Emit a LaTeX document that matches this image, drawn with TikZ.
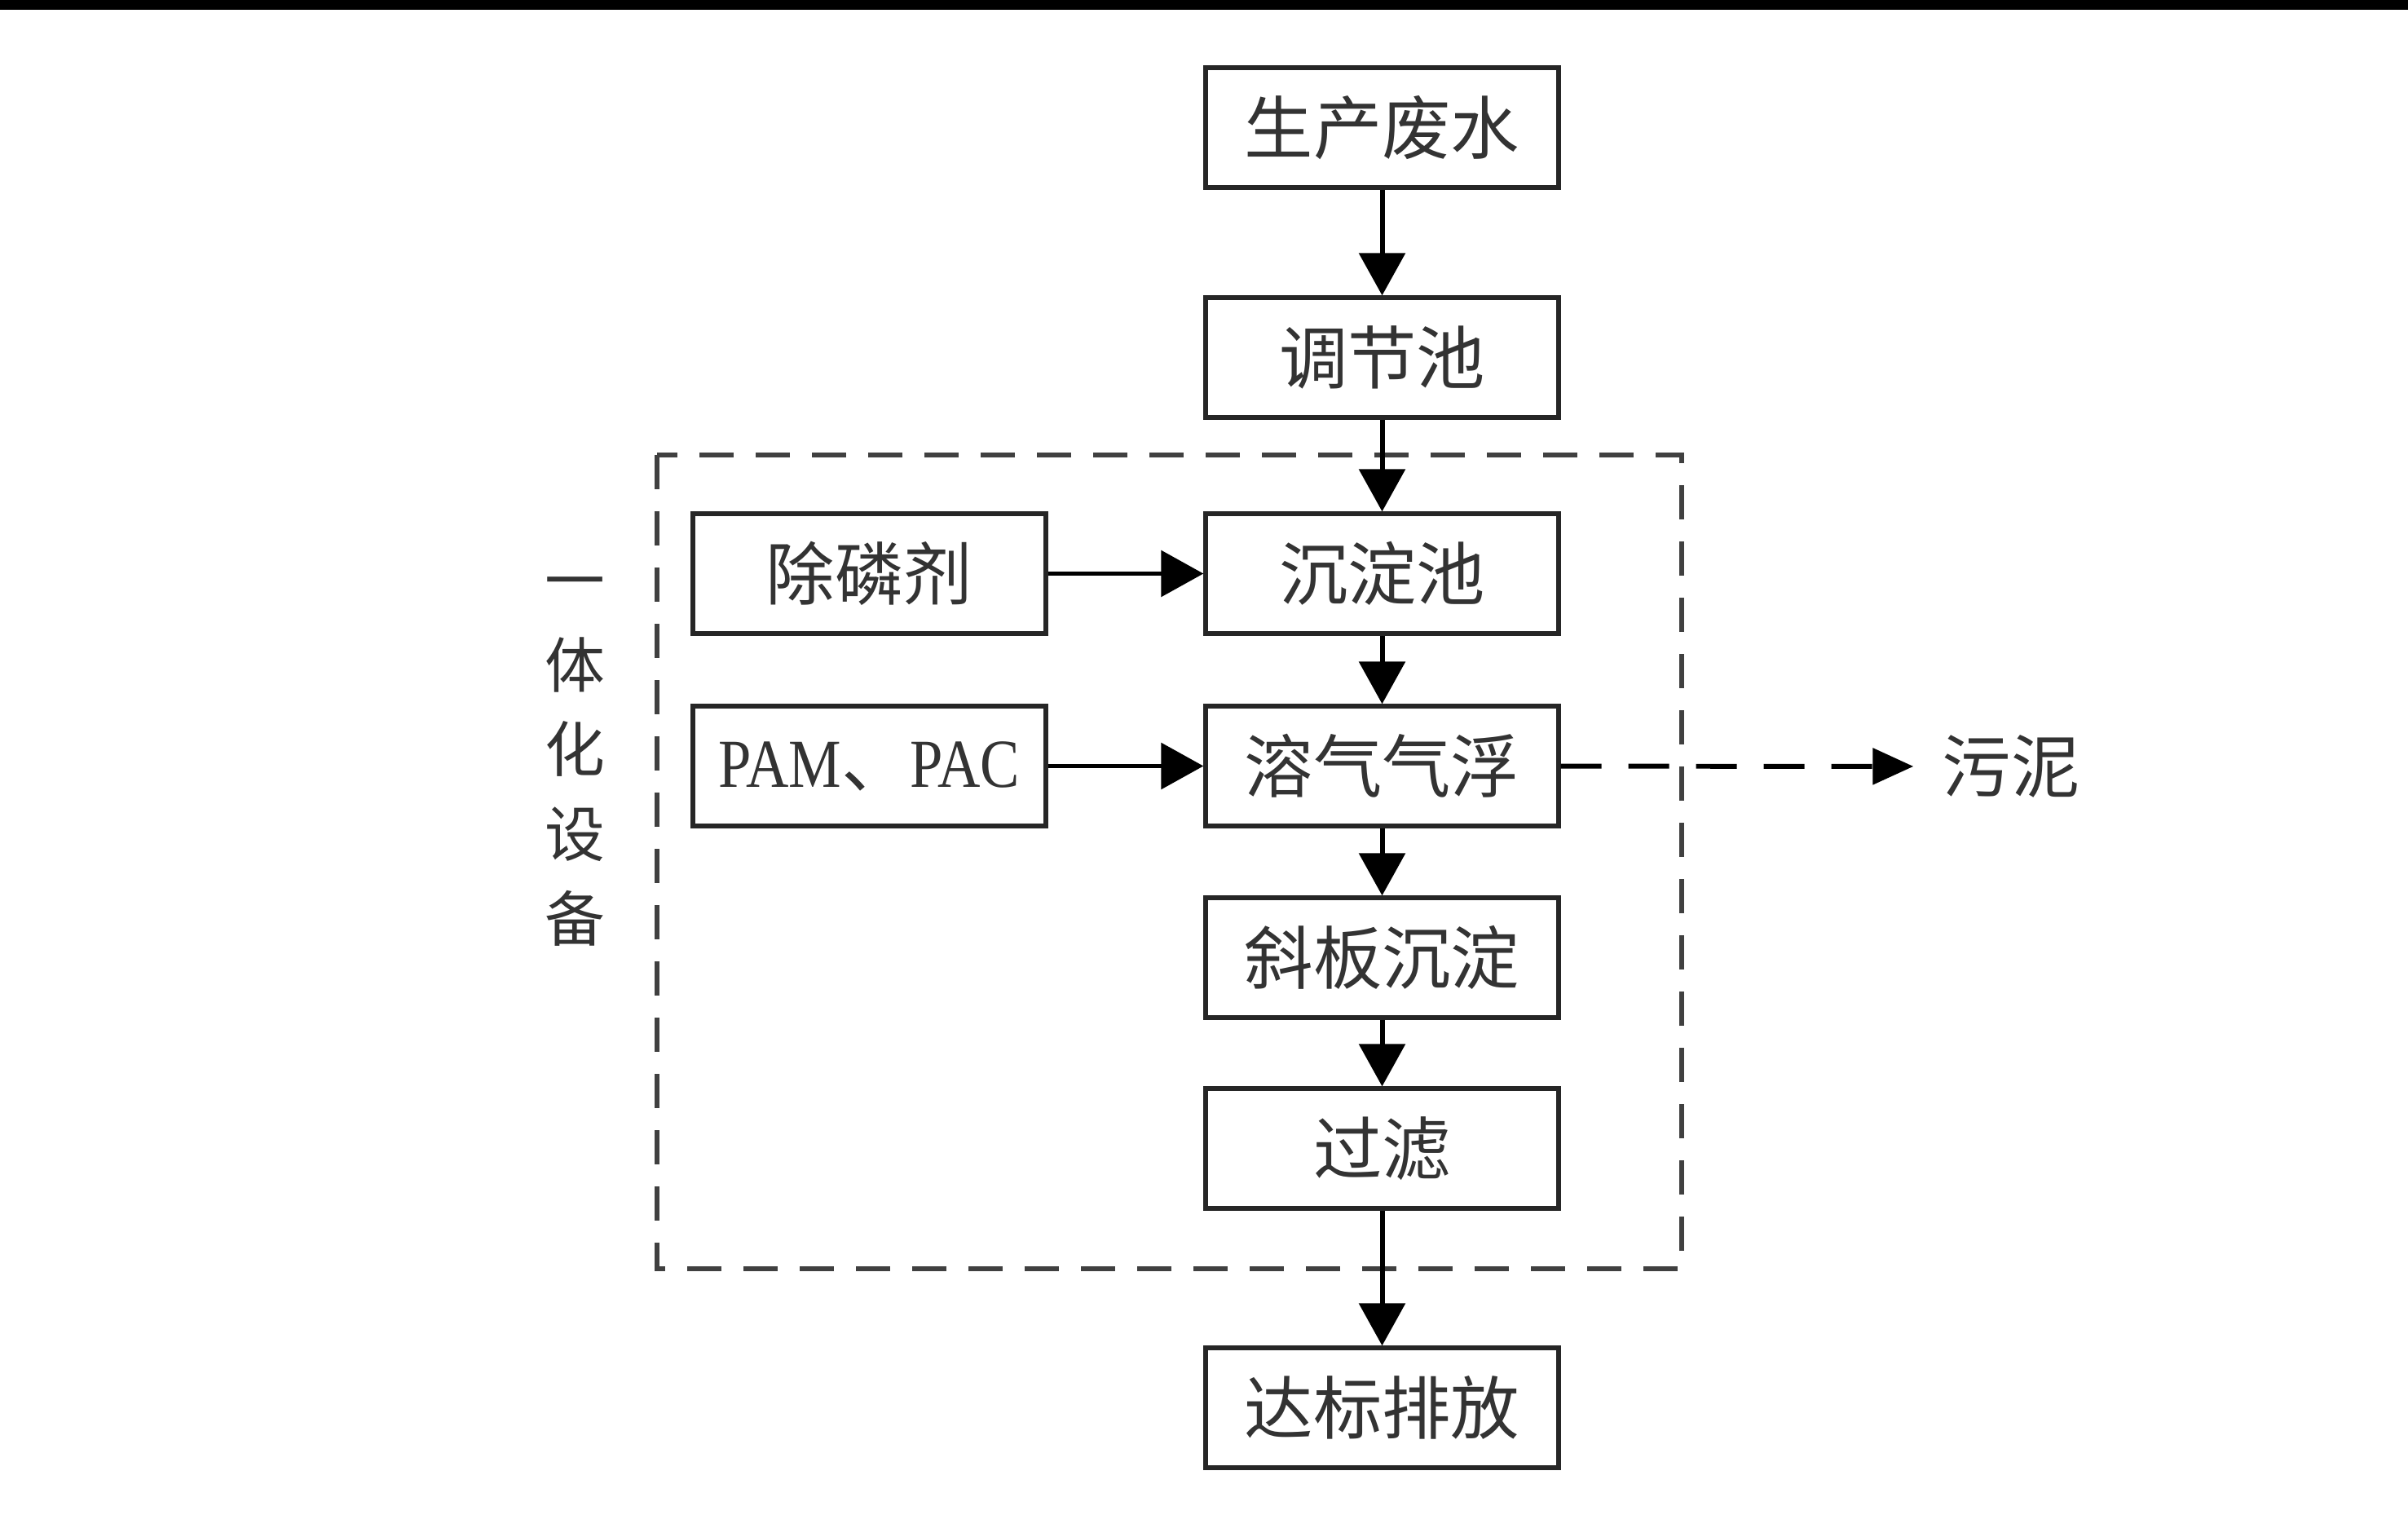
\documentclass[tikz,border=0pt]{standalone}
\usepackage{fontspec}
\setmainfont{Liberation Serif}
\newfontfamily\cjk{Noto Sans CJK SC}
\newfontfamily\latin[FakeStretch=0.86]{Liberation Serif}
\usetikzlibrary{arrows.meta}
\begin{document}
\begin{tikzpicture}[
  pbox/.style={draw=black!85, line width=1.5pt, minimum width=4.33cm, minimum height=1.47cm, inner sep=0pt, font=\cjk\fontsize{24}{28}\selectfont, text=black!80},
  arr/.style={line width=1.7pt, -{Triangle[length=0.52cm,width=0.56cm]}},
  dasharr/.style={line width=1.7pt, dash pattern=on 0.5cm off 0.33cm, -{Triangle[length=0.5cm,width=0.44cm]}},
  frame/.style={draw=black!75, line width=1.6pt, dash pattern=on 0.42cm off 0.27cm}]
\useasboundingbox (0,0) rectangle (29.54,18.84);
\fill[black] (0,18.72) rectangle (29.54,18.84);
\draw[frame] (8.06,13.26) rectangle (20.63,3.28);
\node[pbox] (pid0) at (16.955,17.275){生产废水};
\node[pbox] (pid1) at (16.955,14.455){调节池};
\node[pbox] (pid2) at (16.955,11.805){沉淀池};
\node[pbox] (pid3) at (16.955,9.445){溶气气浮};
\node[pbox] (pid4) at (16.955,7.095){斜板沉淀};
\node[pbox] (pid5) at (16.955,4.755){过滤};
\node[pbox] (pid6) at (16.955,1.575){达标排放};
\node[pbox] (add0) at (10.665,11.805){除磷剂};
\node[pbox] (add1) at (10.665,9.445){{\latin PAM}、{\latin PAC}};
\node[font=\cjk\fontsize{24}{28}\selectfont, text=black!80] (sludge) at (24.67,9.44){污泥};
\node[font=\cjk\fontsize{21}{29.5}\selectfont, text=black!80, align=center] (unit) at (7.05,9.5){一\\体\\化\\设\\备};
\draw[arr](pid0) -- (pid1);
\draw[arr](pid1) -- (pid2);
\draw[arr](pid2) -- (pid3);
\draw[arr](pid3) -- (pid4);
\draw[arr](pid4) -- (pid5);
\draw[arr](pid5) -- (pid6);
\draw[arr](add0) -- (pid2);
\draw[arr](add1) -- (pid3);
\draw[dasharr, shorten >=0.23cm](pid3) -- (sludge);
\end{tikzpicture}
\end{document}
